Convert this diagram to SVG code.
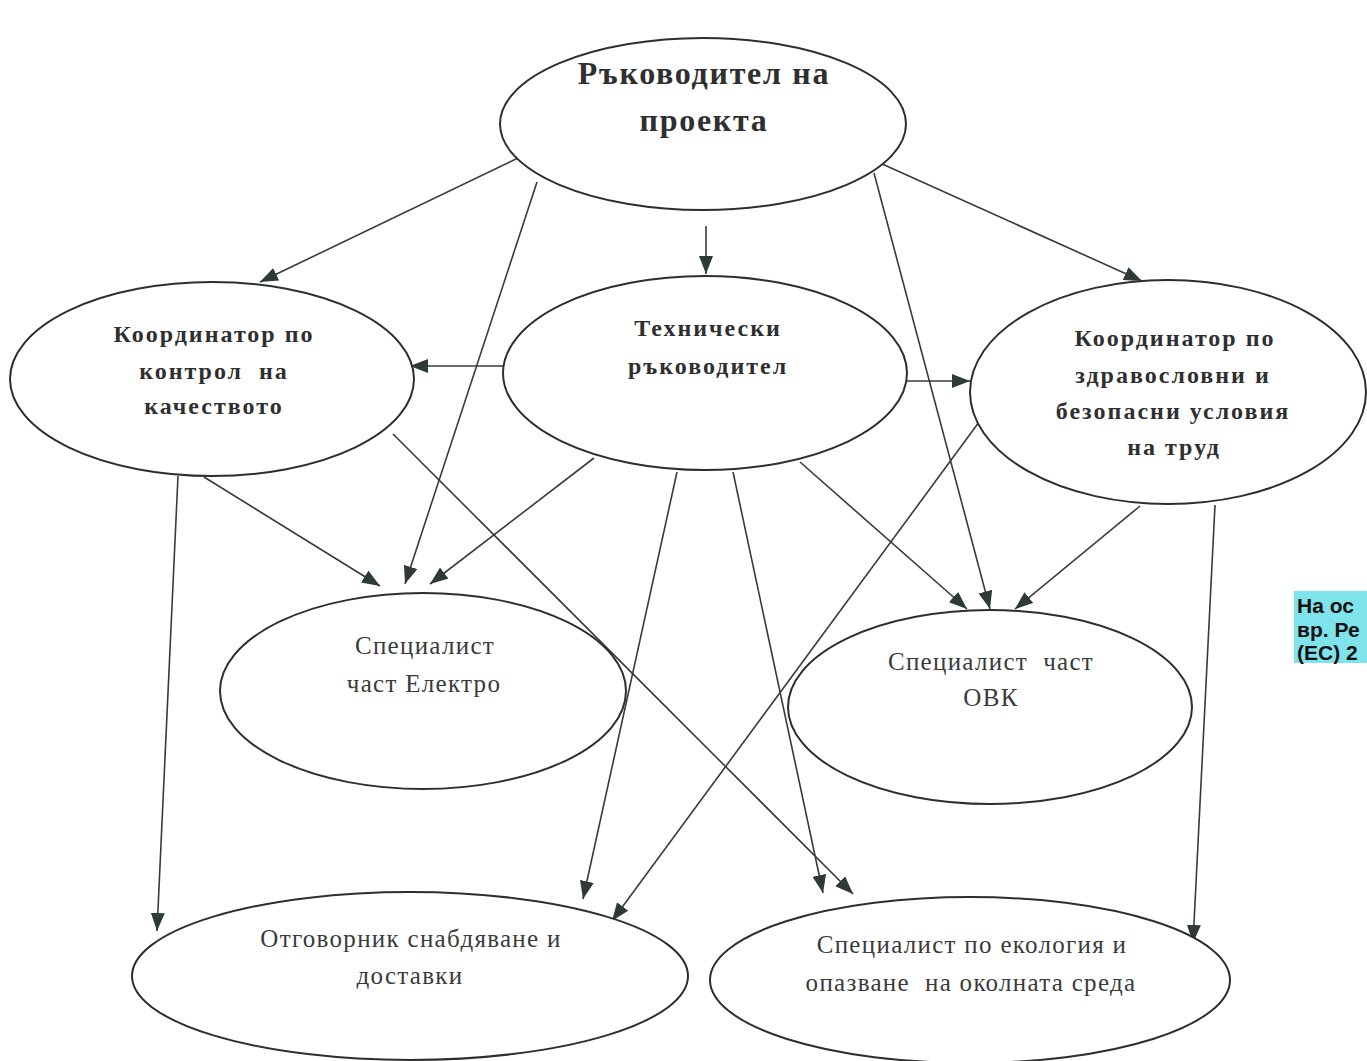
<svg xmlns="http://www.w3.org/2000/svg" width="1367" height="1061" viewBox="0 0 1367 1061">
<style>
.node ellipse{fill:#fff;stroke:#2e2e2e;stroke-width:2}
.b{font-family:"Liberation Serif","DejaVu Serif",serif;font-weight:bold;fill:#2f2f2f;text-anchor:middle;font-size:24px;letter-spacing:2px}
.t{font-family:"Liberation Serif","DejaVu Serif",serif;fill:#3a3a3a;text-anchor:middle;font-size:25px;letter-spacing:1.3px}
.c line{stroke:#3a3a3a;stroke-width:1.6;marker-end:url(#ah)}
.note{font-family:"Liberation Sans","DejaVu Sans",sans-serif;font-weight:bold;font-size:21px;fill:#111}
</style>
<defs>
<marker id="ah" markerUnits="userSpaceOnUse" markerWidth="20" markerHeight="16" refX="18" refY="7" orient="auto">
<path d="M0,0 L18,7 L0,14 Z" fill="#2e3a36"/>
</marker>
</defs>
<rect width="1367" height="1061" fill="#fff"/>
<g class="c" id="connectors">
<line x1="520" y1="157" x2="260" y2="282"/>
<line x1="537" y1="182" x2="405" y2="584"/>
<line x1="706" y1="226" x2="706" y2="274"/>
<line x1="874" y1="173" x2="990" y2="609"/>
<line x1="880" y1="163" x2="1142" y2="281"/>
<line x1="505" y1="366" x2="410" y2="366"/>
<line x1="906" y1="381" x2="970" y2="381"/>
<line x1="594" y1="458" x2="430" y2="584"/>
<line x1="677" y1="472" x2="583" y2="899"/>
<line x1="733" y1="472" x2="823" y2="893"/>
<line x1="800" y1="462" x2="967" y2="609"/>
<line x1="204" y1="477" x2="380" y2="586"/>
<line x1="178" y1="476" x2="157" y2="931"/>
<line x1="393" y1="434" x2="853" y2="894"/>
<line x1="1140" y1="506" x2="1015" y2="609"/>
<line x1="982" y1="418" x2="612" y2="921"/>
<line x1="1215" y1="505" x2="1193" y2="943"/>
</g>
<g class="node" id="n-top">
<ellipse cx="703" cy="124" rx="203" ry="86"/>
<text class="b" x="704" y="84" style="font-size:32px;letter-spacing:1.7px">Ръководител на</text>
<text class="b" x="704" y="131" style="font-size:32px;letter-spacing:1.7px">проекта</text>
</g>
<g class="node" id="n-quality">
<ellipse cx="212" cy="379" rx="202" ry="97"/>
<text class="b" x="214" y="342">Координатор по</text>
<text class="b" x="214" y="379" xml:space="preserve">контрол  на</text>
<text class="b" x="214" y="414">качеството</text>
</g>
<g class="node" id="n-tech">
<ellipse cx="705" cy="373" rx="202" ry="97"/>
<text class="b" x="708" y="336">Технически</text>
<text class="b" x="708" y="374">ръководител</text>
</g>
<g class="node" id="n-safety">
<ellipse cx="1168" cy="392" rx="198" ry="112"/>
<text class="b" x="1175" y="346">Координатор по</text>
<text class="b" x="1173" y="383">здравословни и</text>
<text class="b" x="1173" y="419">безопасни условия</text>
<text class="b" x="1174" y="455">на труд</text>
</g>
<g class="node" id="n-electro">
<ellipse cx="423" cy="691" rx="203" ry="98"/>
<text class="t" x="425" y="654">Специалист</text>
<text class="t" x="424" y="692">част Електро</text>
</g>
<g class="node" id="n-ovk">
<ellipse cx="990" cy="707" rx="202" ry="97"/>
<text class="t" x="991" y="670" xml:space="preserve">Специалист  част</text>
<text class="t" x="991" y="706">ОВК</text>
</g>
<g class="node" id="n-supply">
<ellipse cx="410" cy="976" rx="278" ry="84"/>
<text class="t" x="411" y="947">Отговорник снабдяване и</text>
<text class="t" x="410" y="984">доставки</text>
</g>
<g class="node" id="n-eco">
<ellipse cx="970" cy="980" rx="260" ry="83"/>
<text class="t" x="972" y="953">Специалист по екология и</text>
<text class="t" x="971" y="991" xml:space="preserve">опазване  на околната среда</text>
</g>
<g id="note">
<rect x="1294" y="591" width="73" height="72" fill="#7fe3ec"/>
<text class="note" x="1297" y="613">На ос</text>
<text class="note" x="1297" y="637">вр. Ре</text>
<text class="note" x="1297" y="660">(ЕС) 2</text>
</g>
</svg>
